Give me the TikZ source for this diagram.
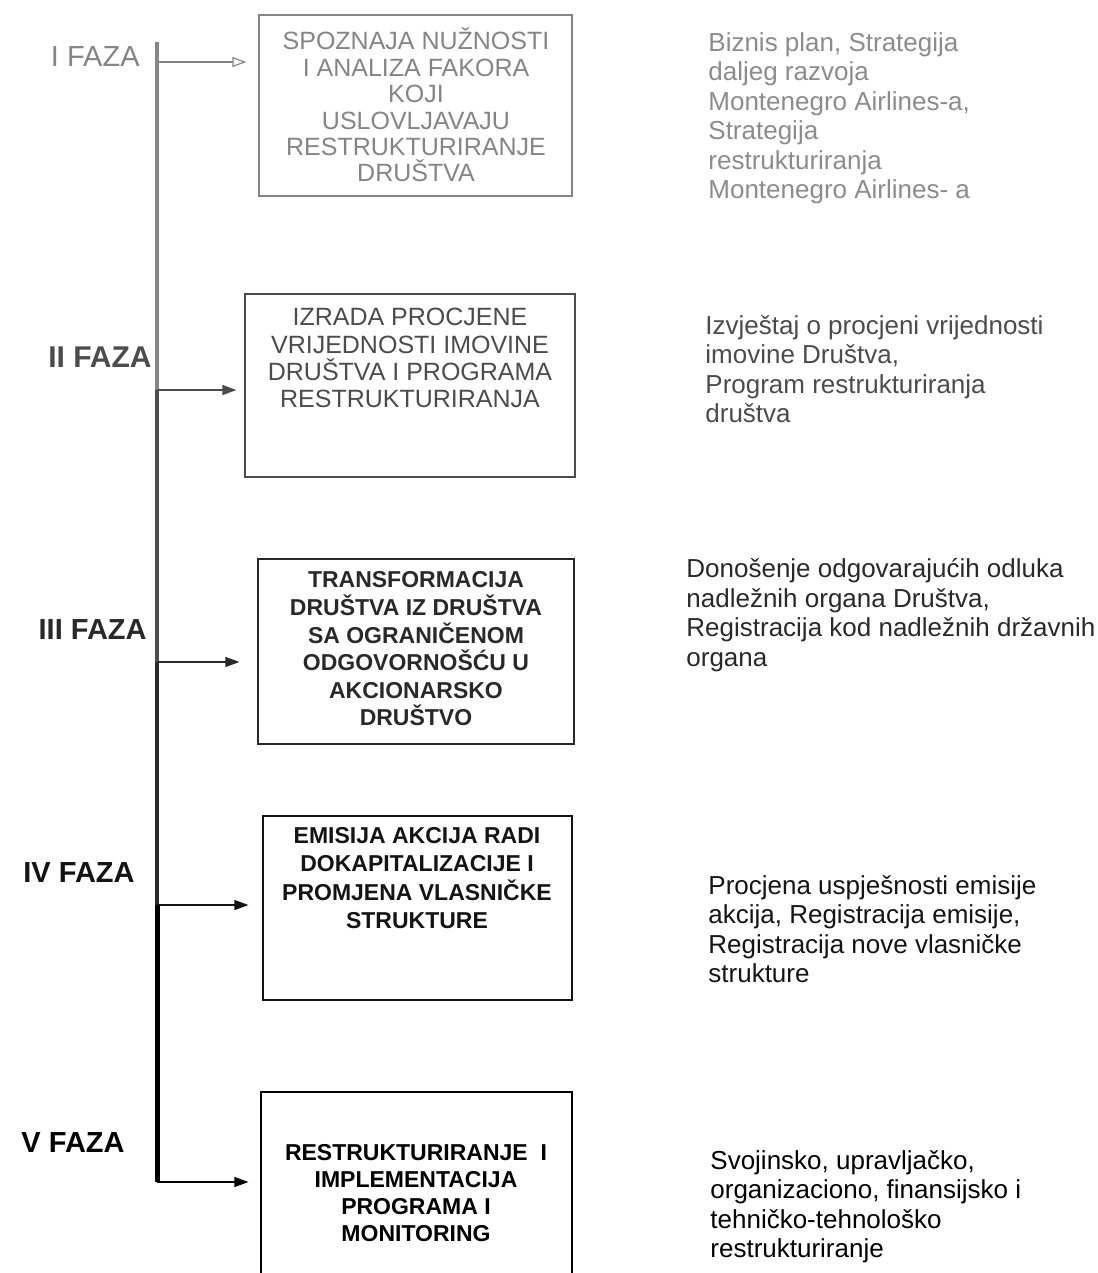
\documentclass[tikz,border=0pt]{standalone}
\usepackage{fontspec}
\setmainfont{Liberation Sans}
\usetikzlibrary{arrows.meta}

\definecolor{fazaone}{gray}{0.52}
\definecolor{fazatwo}{gray}{0.30}
\definecolor{fazathree}{gray}{0.16}
\definecolor{fazafour}{gray}{0.08}
\definecolor{fazafive}{gray}{0.0}

\begin{document}
\begin{tikzpicture}[
    x=0.5pt, y=-0.5pt,
    >={Triangle[length=7pt, width=5pt]},
    fazabox/.style={rectangle, draw, line width=0.6pt, inner sep=0pt},
    boxtext/.style={align=center, inner sep=0pt, font=\fontsize{12.5}{13.2}\selectfont},
    boldtext/.style={align=center, inner sep=0pt, font=\fontsize{11.5}{13.8}\selectfont\bfseries},
    fazalabel/.style={anchor=east, inner sep=0pt, font=\fontsize{14.5}{17}\selectfont\bfseries},
    result/.style={anchor=north west, align=left, inner sep=0pt, font=\fontsize{13}{14.75}\selectfont},
    phasearrow/.style={->, line width=0.6pt}
]

\useasboundingbox (0,0) rectangle (1097,1273);
\clip (0,0) rectangle (1097,1273);

% Points on the time line
\coordinate (top) at (157,42);
\coordinate (l1) at (157,62);
\coordinate (l2) at (157,390);
\coordinate (l3) at (157,662);
\coordinate (l4) at (157,905);
\coordinate (l5) at (157,1182);

% Time line
\draw[line width=2pt, fazaone] (top) -- (l2);
\draw[line width=2pt, fazatwo] (l2) -- (l3);
\draw[line width=2.2pt, fazathree] (l3) -- (l4);
\draw[line width=2.5pt, fazafive] (l4) -- (l5);

% Phase labels
\node[fazalabel, fazaone, font=\fontsize{14.5}{17}\selectfont] (f1) at (140,57) {I FAZA};
\node[fazalabel, fazatwo, font=\fontsize{15}{17}\selectfont\bfseries] (f2) at (152,357) {II FAZA};
\node[fazalabel, fazathree] (f3) at (147,630) {III FAZA};
\node[fazalabel, fazafour] (f4) at (135,873) {IV FAZA};
\node[fazalabel, fazafive] (f5) at (125,1143) {V FAZA};

% Boxes
\node[fazabox, draw=fazaone, minimum width=156.5pt, minimum height=90.5pt] (b1) at (415.5,105.5) {};
\node[fazabox, draw=fazatwo, minimum width=165pt, minimum height=91.5pt] (b2) at (410,385.5) {};
\node[fazabox, draw=fazathree, minimum width=158pt, minimum height=92.5pt] (b3) at (416,651.5) {};
\node[fazabox, draw=fazafour, minimum width=154.5pt, minimum height=92pt] (b4) at (417.5,908) {};
\node[fazabox, draw=fazafive, minimum width=155.5pt, minimum height=99pt] (b5) at (416.5,1191) {};

% Box texts
\node[boxtext, fazaone] (t1) at (416,105) {SPOZNAJA NUŽNOSTI\\I ANALIZA FAKORA\\KOJI\\USLOVLJAVAJU\\RESTRUKTURIRANJE\\DRUŠTVA};
\node[boxtext, fazatwo, font=\fontsize{12.5}{13.6}\selectfont] (t2) at (410,358) {IZRADA PROCJENE\\VRIJEDNOSTI IMOVINE\\DRUŠTVA I PROGRAMA\\RESTRUKTURIRANJA};
\node[boldtext, fazathree] (t3) at (416,649) {TRANSFORMACIJA\\DRUŠTVA IZ DRUŠTVA\\SA OGRANIČENOM\\ODGOVORNOŠĆU U\\AKCIONARSKO\\DRUŠTVO};
\node[boldtext, fazafour, font=\fontsize{11.5}{14.2}\selectfont\bfseries] (t4) at (417,878) {EMISIJA AKCIJA RADI\\DOKAPITALIZACIJE I\\PROMJENA VLASNIČKE\\STRUKTURE};
\node[boldtext, fazafive, font=\fontsize{11.5}{13.4}\selectfont\bfseries] (t5) at (416,1193) {RESTRUKTURIRANJE\ \ I\\IMPLEMENTACIJA\\PROGRAMA I\\MONITORING};

% Arrows from the time line
\draw[phasearrow, fazaone, -{Triangle[open, length=7pt, width=5pt]}, shorten >=6pt] (l1) -- (l1 -| b1.west);
\draw[phasearrow, fazatwo, shorten >=4pt] (l2) -- (l2 -| b2.west);
\draw[phasearrow, fazathree, shorten >=9pt] (l3) -- (l3 -| b3.west);
\draw[phasearrow, fazafour, shorten >=7pt] (l4) -- (l4 -| b4.west);
\draw[phasearrow, fazafive, shorten >=6pt] (l5) -- (l5 -| b5.west);

% Results of each phase
\node[result, black!45] (r1) at (708,32) {Biznis plan, Strategija\\daljeg razvoja\\Montenegro Airlines-a,\\Strategija\\restrukturiranja\\Montenegro Airlines- a};
\node[result, fazatwo] (r2) at (705,315) {Izvještaj o procjeni vrijednosti\\imovine Društva,\\Program restrukturiranja\\društva};
\node[result, fazathree] (r3) at (686,558) {Donošenje odgovarajućih odluka\\nadležnih organa Društva,\\Registracija kod nadležnih državnih\\organa};
\node[result, fazafour] (r4) at (708,875) {Procjena uspješnosti emisije\\akcija, Registracija emisije,\\Registracija nove vlasničke\\strukture};
\node[result, fazafive] (r5) at (710,1150) {Svojinsko, upravljačko,\\organizaciono, finansijsko i\\tehničko-tehnološko\\restrukturiranje};

\end{tikzpicture}
\end{document}
